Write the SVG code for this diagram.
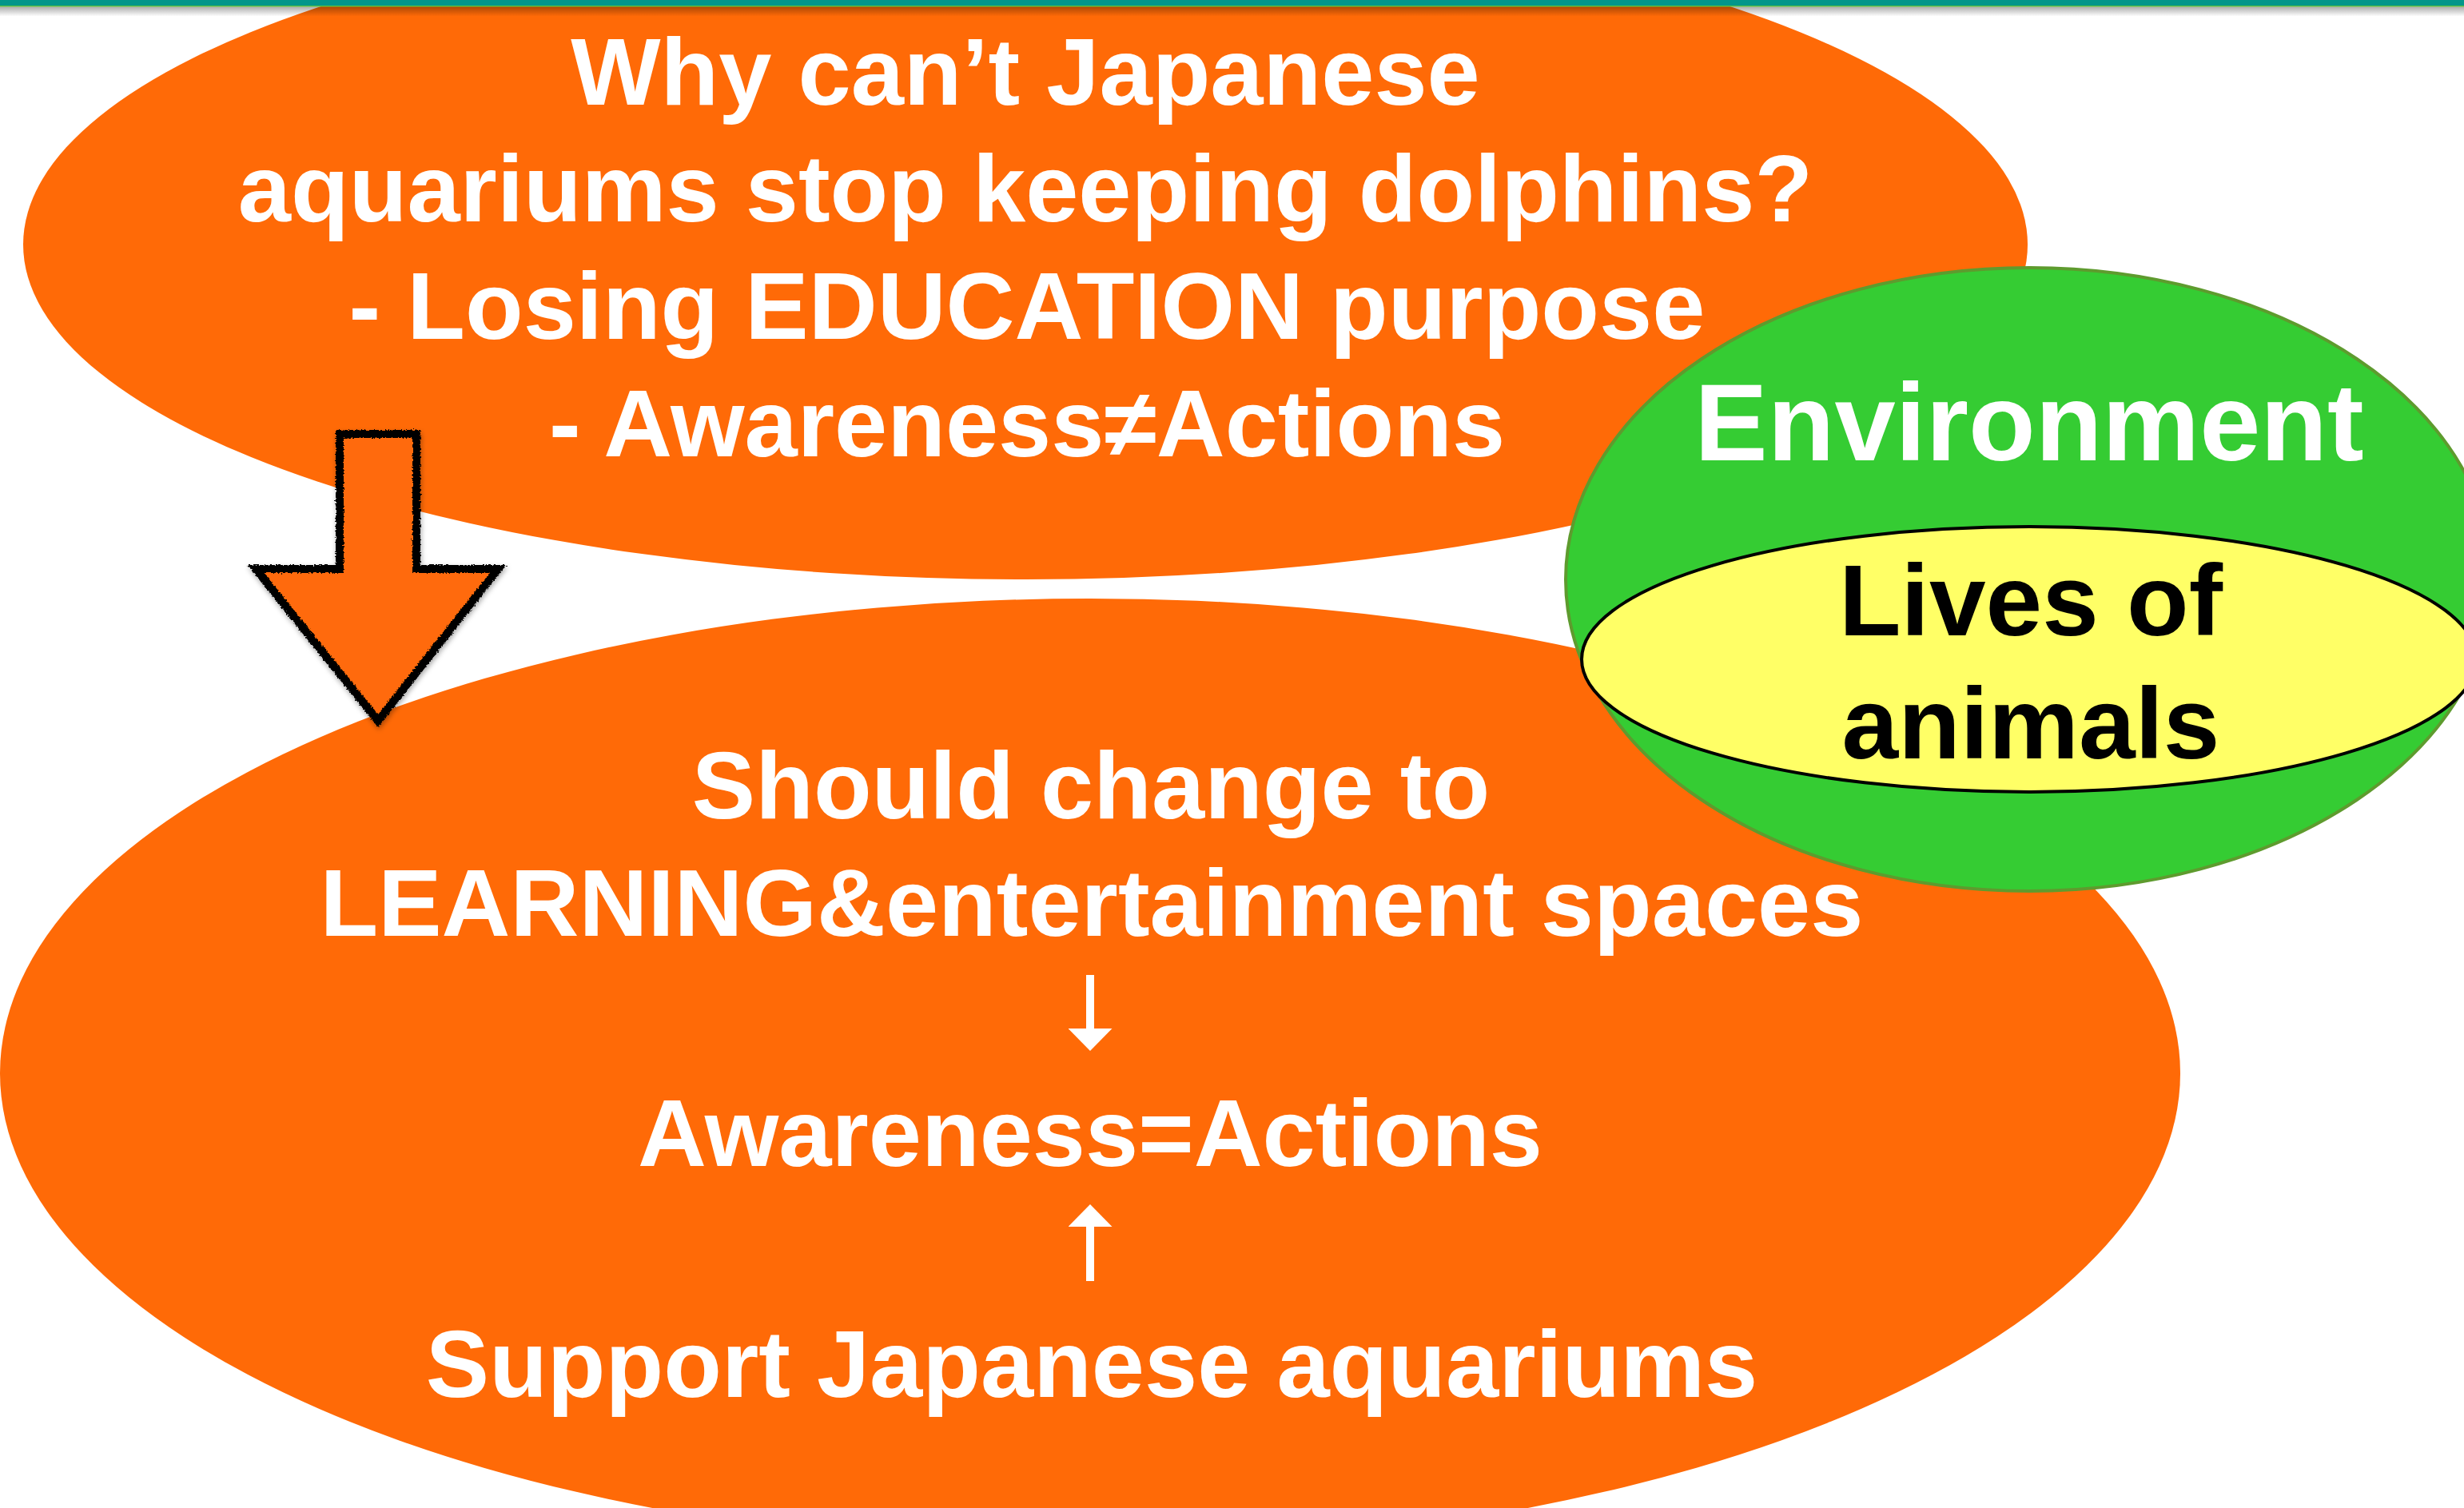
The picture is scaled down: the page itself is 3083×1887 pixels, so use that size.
<svg xmlns="http://www.w3.org/2000/svg" width="3083" height="1887" viewBox="0 0 3083 1887">
  <style>
    .orange { fill: #FF6A07; }
    .t-white { fill: #FFFFFF; font-family: "Liberation Sans", Arial, sans-serif; font-weight: bold; text-anchor: middle; }
    .t-black { fill: #000000; font-family: "Liberation Sans", Arial, sans-serif; font-weight: bold; text-anchor: middle; }
    .main { font-size: 119px; }
  </style>
  <defs>
    <linearGradient id="barShadow" x1="0" y1="0" x2="0" y2="1">
      <stop offset="0" stop-color="#000" stop-opacity="0.32"/>
      <stop offset="1" stop-color="#000" stop-opacity="0"/>
    </linearGradient>
    <filter id="rough" x="-10%" y="-10%" width="120%" height="120%">
      <feTurbulence type="fractalNoise" baseFrequency="0.5" numOctaves="2" seed="3" result="noise"/>
      <feDisplacementMap in="SourceGraphic" in2="noise" scale="6" xChannelSelector="R" yChannelSelector="G"/>
    </filter>
    <filter id="rough2" x="-10%" y="-10%" width="120%" height="120%">
      <feTurbulence type="fractalNoise" baseFrequency="0.7" numOctaves="2" seed="9" result="noise"/>
      <feDisplacementMap in="SourceGraphic" in2="noise" scale="5" xChannelSelector="G" yChannelSelector="R"/>
    </filter>
    <filter id="shadow" x="-20%" y="-20%" width="140%" height="140%">
      <feDropShadow dx="1" dy="3" stdDeviation="3" flood-color="#000" flood-opacity="0.35"/>
    </filter>
    <marker id="head" viewBox="0 0 28 55" refX="0" refY="27.5" markerWidth="28" markerHeight="55" markerUnits="userSpaceOnUse" orient="auto">
      <path d="M0,0 L28,27.5 L0,55 Z" fill="#FFFFFF"/>
    </marker>
  </defs>

  <rect x="0" y="0" width="3083" height="1887" fill="#FFFFFF"/>

  <g id="question">
    <ellipse class="orange" cx="1283" cy="306" rx="1254" ry="419"/>
    <text class="t-white main" x="1283" y="131">Why can’t Japanese</text>
    <text class="t-white main" x="1283" y="277">aquariums stop keeping dolphins?</text>
    <text class="t-white main" x="1285" y="424">- Losing EDUCATION purpose</text>
    <text class="t-white main" x="1285" y="571">- Awareness≠Actions</text>
  </g>

  <g id="proposal">
    <ellipse class="orange" cx="1364" cy="1343" rx="1364" ry="594"/>
    <text class="t-white main" x="1365" y="1024">Should change to</text>
    <text class="t-white main" x="1366" y="1171">LEARNING&amp;entertainment spaces</text>
    <text class="t-white main" x="1364" y="1459">Awareness=Actions</text>
    <text class="t-white main" x="1366" y="1748">Support Japanese aquariums</text>
  </g>

  <g id="connectors">
    <g id="big-arrow" filter="url(#shadow)">
      <path class="orange" d="M425,543 L521,543 L521,712 L623,712 L473,902 L320,712 L425,712 Z"/>
      <path d="M425,543 L521,543 L521,712 L623,712 L473,902 L320,712 L425,712 Z" fill="none" stroke="#000" stroke-width="10" stroke-linejoin="miter" filter="url(#rough)"/>
      <path d="M425,543 L521,543 L521,712 L623,712 L473,902 L320,712 L425,712 Z" fill="none" stroke="#000" stroke-width="6" stroke-linejoin="miter" filter="url(#rough2)"/>
    </g>
    <line x1="1364" y1="1220" x2="1364" y2="1287" stroke="#FFFFFF" stroke-width="10" marker-end="url(#head)"/>
    <line x1="1364" y1="1603" x2="1364" y2="1535" stroke="#FFFFFF" stroke-width="10" marker-end="url(#head)"/>
  </g>

  <g id="environment">
    <ellipse cx="2539" cy="725" rx="580" ry="390" fill="#35CC33" stroke="#5E9B2E" stroke-width="4"/>
    <text class="t-white" x="2539" y="576" font-size="137">Environment</text>
  </g>

  <g id="lives-of-animals">
    <ellipse cx="2539" cy="825" rx="560" ry="166" fill="#FFFF66" stroke="#000000" stroke-width="4"/>
    <text class="t-black" x="2541" y="795" font-size="127">Lives of</text>
    <text class="t-black" x="2541" y="949" font-size="127">animals</text>
  </g>

  <g id="top-bar">
    <rect x="0" y="0" width="3083" height="7" fill="#03968A"/>
    <rect x="0" y="7" width="3083" height="1.5" fill="#5DC13F"/>
    <rect x="0" y="8.5" width="3083" height="12" fill="url(#barShadow)"/>
  </g>
</svg>
